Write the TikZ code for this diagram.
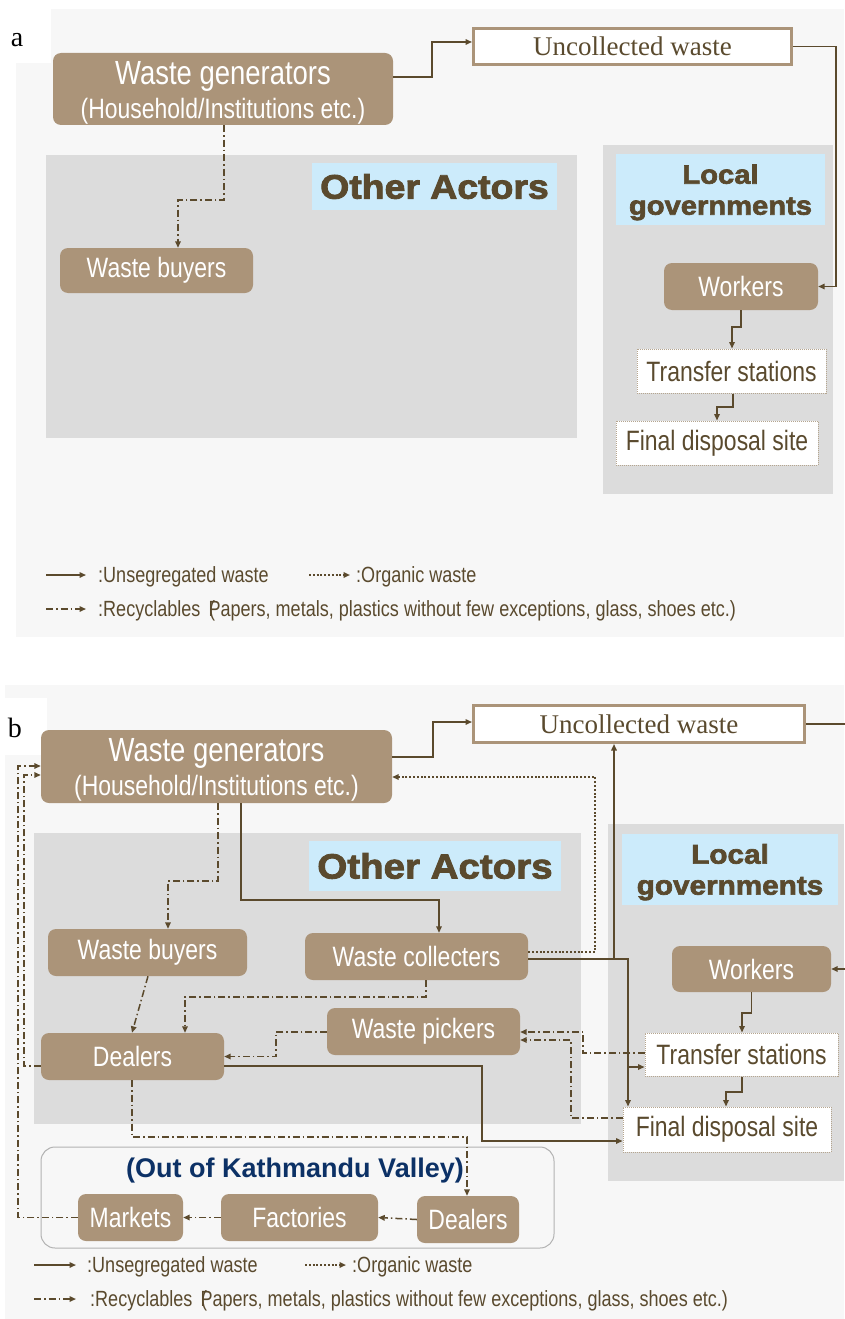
\documentclass[tikz,border=0pt]{standalone}
\usepackage{fontspec}
\usetikzlibrary{arrows.meta}
\setmainfont{Liberation Sans}
\newfontfamily\narrowfont[FakeStretch=0.82]{Liberation Sans}
\newfontfamily\seriffont{Liberation Serif}
\newfontfamily\heavyfont[BoldFeatures={FakeBold=2.5,FakeStretch=1.1}]{Liberation Sans}

\definecolor{boxtan}{HTML}{AB9479}
\definecolor{linebrown}{HTML}{5B4A2D}
\definecolor{txtbrown}{HTML}{5A4A2E}
\definecolor{panelbg}{HTML}{F7F7F7}
\definecolor{zonegrey}{HTML}{DCDCDC}
\definecolor{labelblue}{HTML}{CCEBFB}
\definecolor{valleyblue}{HTML}{0C3166}
\definecolor{dotborder}{HTML}{B5A58F}

\tikzset{
  tanbox/.style={fill=boxtan, rounded corners=8pt, text=white, inner sep=0pt,
    font=\narrowfont\fontsize{28}{34}\selectfont},
  sitebox/.style={fill=white, draw=dotborder, densely dotted, line width=1pt,
    text=txtbrown, inner sep=0pt, font=\narrowfont\fontsize{28}{34}\selectfont},
  uncbox/.style={fill=white, draw=boxtan, line width=3pt, text=txtbrown,
    inner sep=0pt, font=\seriffont\fontsize{27}{30}\selectfont},
  heading/.style={fill=labelblue, text=txtbrown, inner sep=0pt, align=center,
    font=\heavyfont\bfseries\fontsize{34}{31}\selectfont},
  legendtext/.style={anchor=west, text=txtbrown, inner sep=0pt,
    font=\narrowfont\fontsize{22}{24}\selectfont},
  tip/.style={-{Triangle[length=6.5pt,width=5.5pt,fill=linebrown]}},
  uns/.style={tip, draw=linebrown, line width=1.5pt},
  org/.style={tip, draw=linebrown, line width=2.5pt,
    dash pattern=on 2pt off 1.8pt},
  rec/.style={tip, draw=linebrown, line width=1.5pt,
    dash pattern=on 7pt off 3pt on 1.5pt off 3pt},
  panellabel/.style={text=black, font=\seriffont\fontsize{28}{30}\selectfont}
}

\begin{document}
\begin{tikzpicture}[x=1pt, y=-1pt]
\useasboundingbox (0,0) rectangle (844,1319);

% ---------------- panel a ----------------
\fill[panelbg] (16,9) rectangle (844,637);
\fill[white] (0,0) rectangle (51,63);
\node[panellabel] (la) at (17,40) {a};

\fill[zonegrey] (46,155) rectangle (577,438);
\fill[zonegrey] (603,145) rectangle (833,494);

\node[heading, minimum width=245pt, minimum height=47pt] (OAa) at (434.5,186.5) {Other Actors};
\node[heading, minimum width=209pt, minimum height=71pt,
  font=\heavyfont\bfseries\fontsize{26.5}{31}\selectfont] (LGa) at (720.5,189.5) {\rule{0pt}{25pt}Local\\governments};

\node[tanbox, minimum width=340pt, minimum height=72pt, align=center] (WGa) at (223,89)
  {\rule{0pt}{30pt}{\fontsize{33.5}{34}\selectfont Waste generators}\\(Household/Institutions etc.)};
\node[uncbox, minimum width=318pt, minimum height=36pt] (Ua) at (632.5,46.5) {Uncollected waste};
\node[tanbox, minimum width=193pt, minimum height=45pt] (WBa) at (156.5,270.5) {Waste buyers};
\node[tanbox, minimum width=154pt, minimum height=47pt] (Wa) at (741,286.5) {Workers};
\node[sitebox, minimum width=189pt, minimum height=44pt] (Ta) at (731.5,371) {Transfer stations};
\node[sitebox, minimum width=202pt, minimum height=44pt] (Fa) at (717,443) {Final disposal site};

\draw[uns] (WGa.east |- 0,77) -- (432,77) |- (Ua.west |- 0,42);
\draw[uns] (Ua.east) -- (836,46.5) |- (Wa.east);
\draw[rec] (224,0 |- WGa.south) -- (224,200) -| (178,0 |- WBa.north);
\draw[uns] (Wa.south) -- (741,327) -| (732,0 |- Ta.north);
\draw[uns] (733,0 |- Ta.south) -- (733,407) -| (Fa.north);

% legend a
\coordinate (a1s) at (46,575);  \coordinate (a1e) at (86,575);
\coordinate (a2s) at (309,575); \coordinate (a2e) at (350,575);
\coordinate (a3s) at (46,609);  \coordinate (a3e) at (86,609);
\draw[uns] (a1s) -- (a1e);
\draw[org] (a2s) -- (a2e);
\draw[rec] (a3s) -- (a3e);
\node[legendtext] (lga1) at (98,577) {:Unsegregated waste};
\node[legendtext] (lga2) at (356,577) {:Organic waste};
\node[legendtext] (lga3) at (98,611) {:Recyclables \,(\kern-0.3em Papers, metals, plastics without few exceptions, glass, shoes etc.)};

% ---------------- panel b ----------------
\fill[panelbg] (5,685) rectangle (844,1319);
\fill[white] (0,698) rectangle (47,755);
\node[panellabel] (lb) at (15,728) {b};

\fill[zonegrey] (34,833) rectangle (581,1124);
\fill[zonegrey] (608,824) rectangle (844,1181);

\node[heading, minimum width=252pt, minimum height=50pt,
  font=\heavyfont\bfseries\fontsize{35}{31}\selectfont] (OAb) at (435,866) {Other Actors};
\node[heading, minimum width=216pt, minimum height=71pt,
  font=\heavyfont\bfseries\fontsize{27}{31}\selectfont] (LGb) at (730,869.5) {\rule{0pt}{25pt}Local\\governments};

\draw[draw=black!30, fill=panelbg, line width=1pt, rounded corners=14pt] (41,1147) rectangle (554,1248);
\node[text=valleyblue, inner sep=0pt, font=\bfseries\fontsize{27}{30}\selectfont] (OKV) at (295,1171) {(Out of Kathmandu Valley)};

\node[tanbox, minimum width=351pt, minimum height=73pt, align=center] (WGb) at (216.5,766.5)
  {\rule{0pt}{30pt}{\fontsize{33.5}{34}\selectfont Waste generators}\\(Household/Institutions etc.)};
\node[uncbox, minimum width=331pt, minimum height=37pt] (Ub) at (639,724) {Uncollected waste};
\node[tanbox, minimum width=199pt, minimum height=47pt] (WBb) at (147.5,952.5) {Waste buyers};
\node[tanbox, minimum width=223pt, minimum height=47pt] (Cb) at (416.5,956.5) {Waste collecters};
\node[tanbox, minimum width=159pt, minimum height=46pt] (Wb) at (751.5,969) {Workers};
\node[tanbox, minimum width=193pt, minimum height=47pt] (Pb) at (423.5,1031.5) {Waste pickers};
\node[tanbox, minimum width=183pt, minimum height=47pt] (Db) at (132.5,1056.5) {Dealers};
\node[sitebox, minimum width=193pt, minimum height=43pt] (Tb) at (741.5,1054.5) {Transfer stations};
\node[sitebox, minimum width=208pt, minimum height=45pt] (Fb) at (727,1129.5) {Final disposal site};
\node[tanbox, minimum width=105pt, minimum height=47pt] (Mk) at (130.5,1217.5) {Markets};
\node[tanbox, minimum width=157pt, minimum height=47pt] (Fc) at (299.5,1217.5) {Factories};
\node[tanbox, minimum width=102pt, minimum height=47pt] (Do) at (468,1219.5) {Dealers};

\coordinate (j1) at (614,959);
\coordinate (j2) at (628,1067);

% unsegregated flows
\draw[uns] (WGb.east |- 0,757) -- (433,757) |- (Ub.west |- 0,722);
\draw[uns] (Ub.east) -- (850,724) |- (Wb.east);
\draw[uns] (241,0 |- WGb.south) -- (241,900) -| (439,0 |- Cb.north);
\draw[uns] (Cb.east |- 0,959) -| (628,0 |- Fb.north);
\draw[uns] (j1) -- (614,0 |- Ub.south);
\draw[uns] (j2) -- (Tb.west |- 0,1067);
\draw[uns] (Db.east |- 0,1066) -- (482,1066) |- (Fb.west |- 0,1141);
\draw[uns] (Wb.south) -- (751.5,1013) -| (742,0 |- Tb.north);
\draw[uns] (742,0 |- Tb.south) -- (742,1092) -| (726,0 |- Fb.north);

% organic flow
\draw[org] (Cb.east |- 0,952) -- (595,952) |- (WGb.east |- 0,777);

% recyclable flows
\draw[rec] (218,0 |- WGb.south) -- (218,881) -| (168,0 |- WBb.north);
\draw[rec] (148,0 |- WBb.south) -- (132,0 |- Db.north);
\draw[rec] (426,0 |- Cb.south) -- (426,997) -| (185,0 |- Db.north);
\draw[rec] (Pb.west |- 0,1032) -- (276,1032) |- (Db.east);
\draw[rec] (Tb.west |- 0,1053) -- (583,1053) |- (Pb.east |- 0,1032);
\draw[rec] (Fb.west |- 0,1118) -- (571,1118) |- (Pb.east |- 0,1040);
\draw[rec] (Db.west |- 0,1066) -- (24,1066) |- (WGb.west |- 0,775);
\draw[rec] (Mk.west) -- (18,1217.5) |- (WGb.west |- 0,766);
\draw[rec] (132,0 |- Db.south) -- (132,1137) -| (467,0 |- Do.north);
\draw[rec] (Do.west) -- (Fc.east);
\draw[rec] (Fc.west) -- (Mk.east);

% legend b
\coordinate (b1s) at (34,1265);  \coordinate (b1e) at (76,1265);
\coordinate (b2s) at (305,1265); \coordinate (b2e) at (346,1265);
\coordinate (b3s) at (34,1299);  \coordinate (b3e) at (76,1299);
\draw[uns] (b1s) -- (b1e);
\draw[org] (b2s) -- (b2e);
\draw[rec] (b3s) -- (b3e);
\node[legendtext] (lgb1) at (87,1267) {:Unsegregated waste};
\node[legendtext] (lgb2) at (352,1267) {:Organic waste};
\node[legendtext] (lgb3) at (90,1301) {:Recyclables \,(\kern-0.3em Papers, metals, plastics without few exceptions, glass, shoes etc.)};
\end{tikzpicture}
\end{document}
